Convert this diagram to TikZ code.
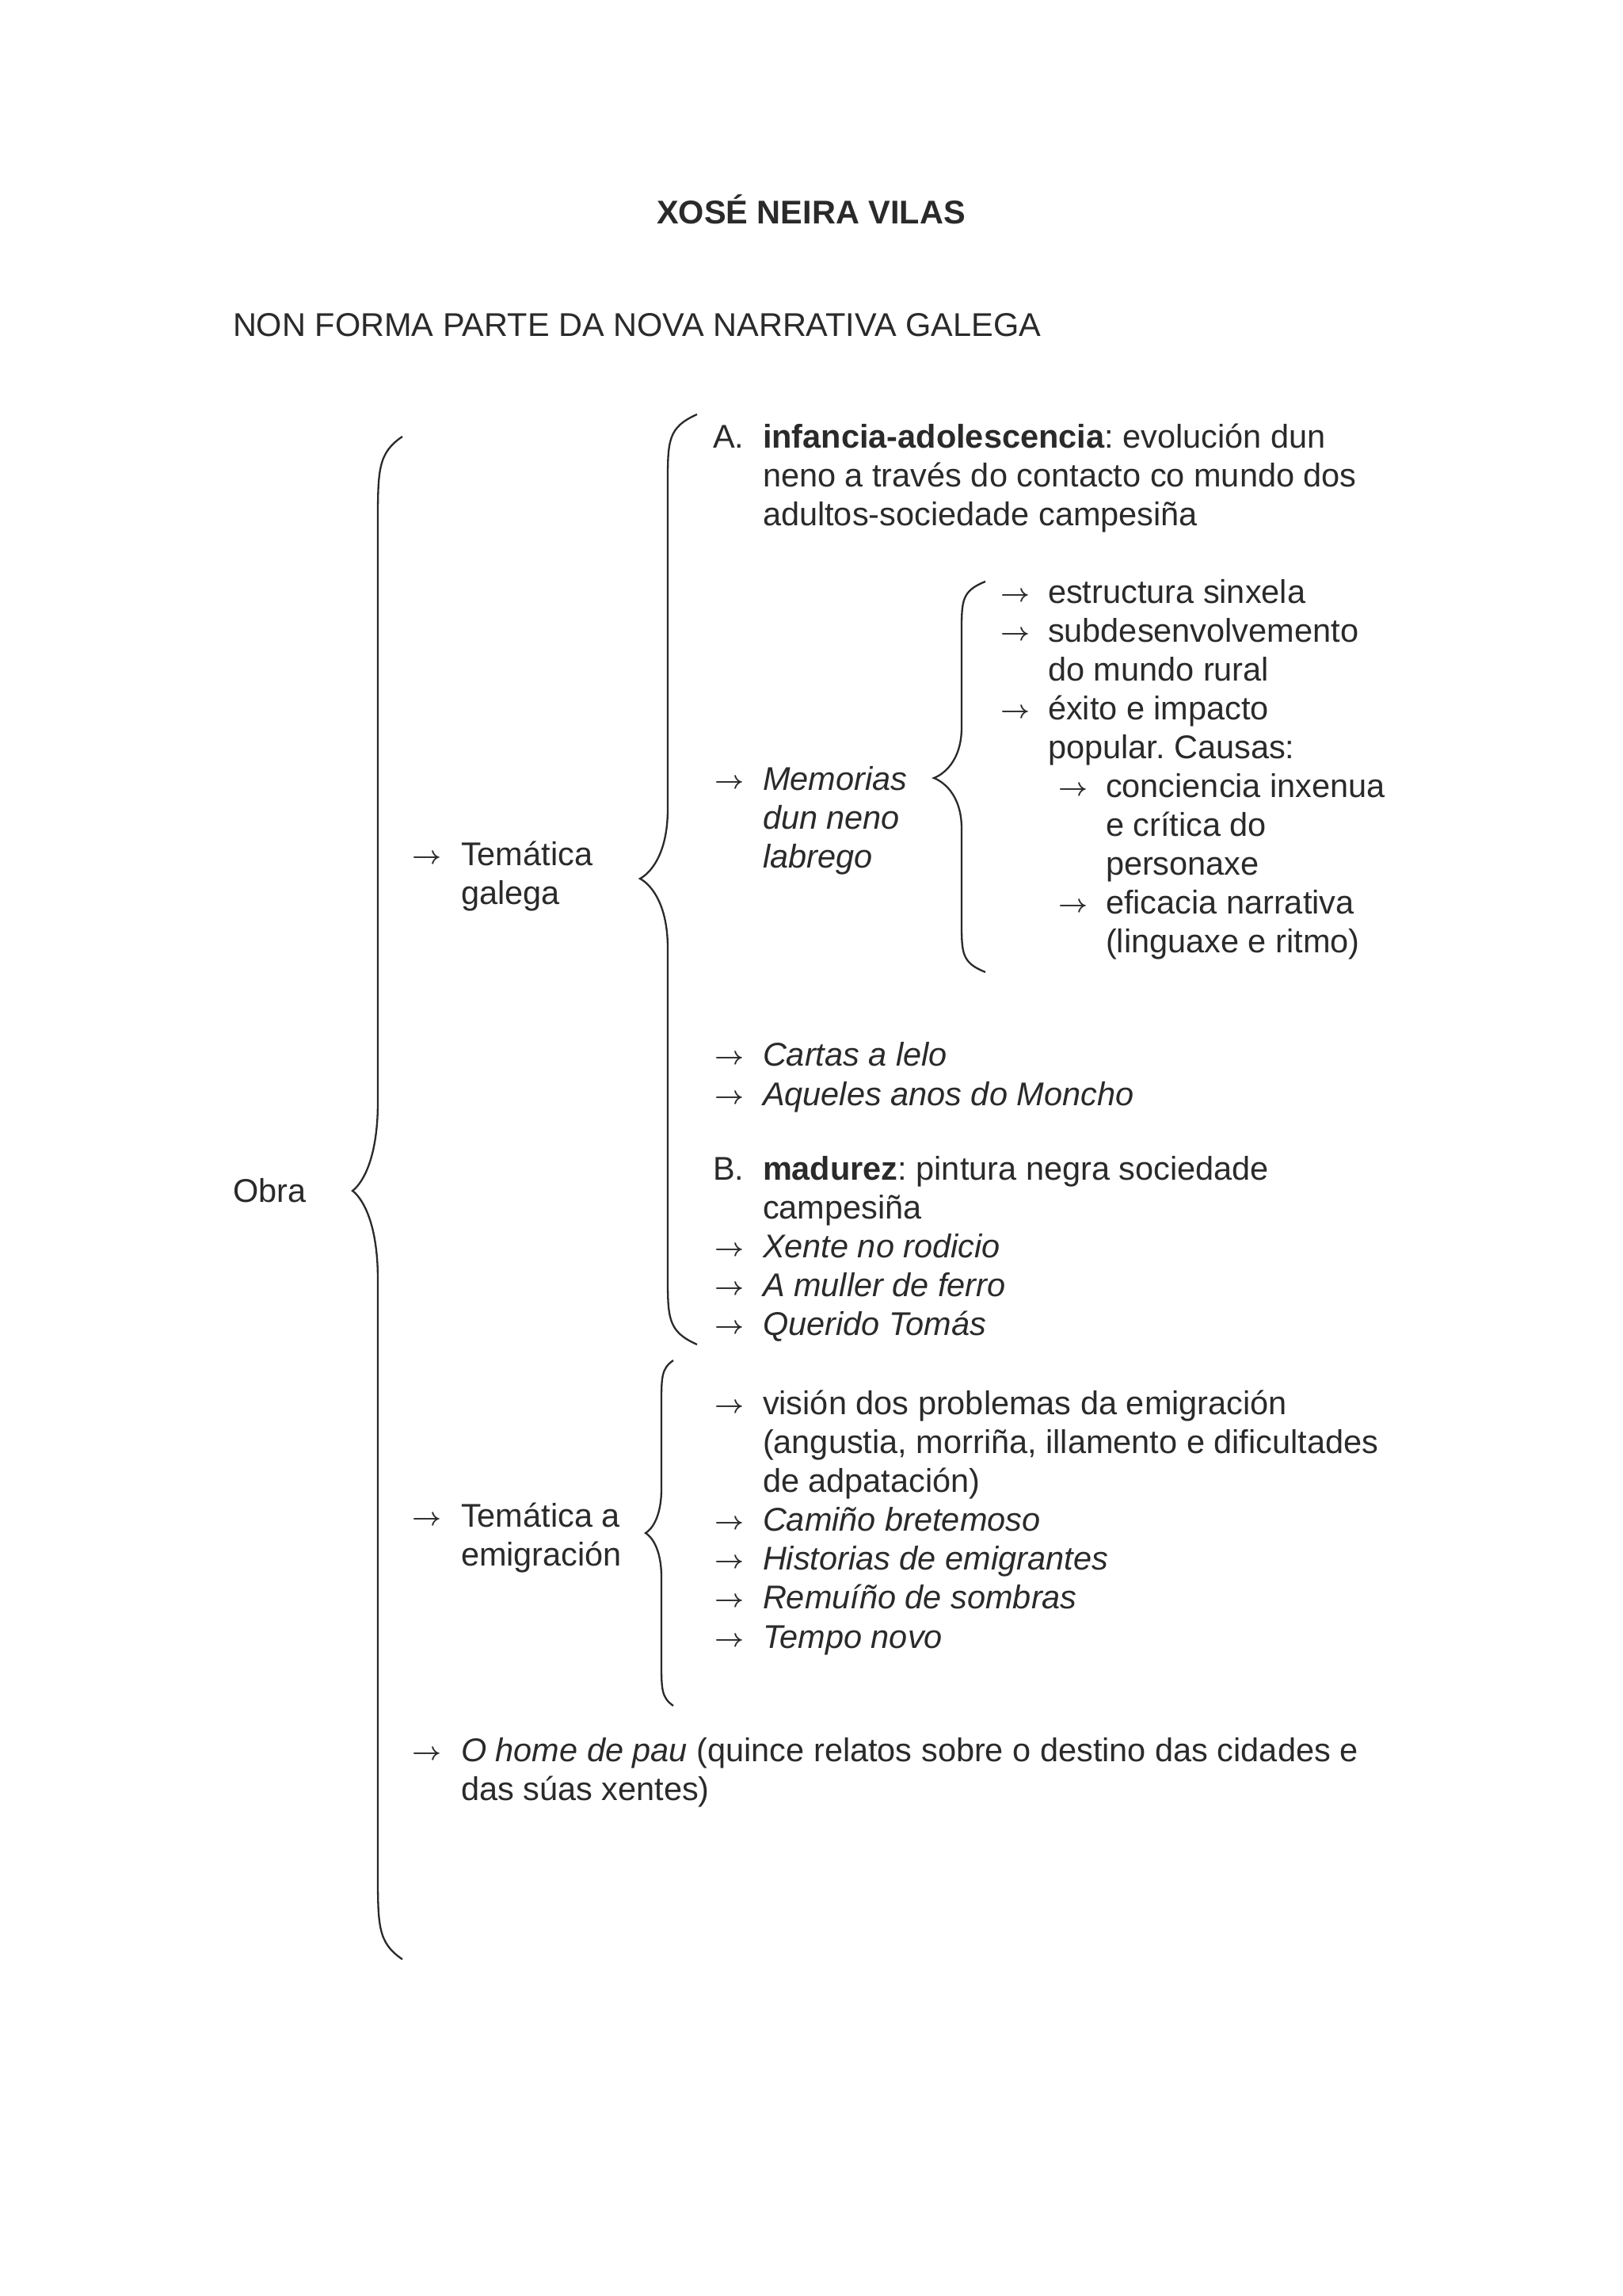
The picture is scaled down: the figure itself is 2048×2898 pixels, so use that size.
\documentclass[tikz,border=0pt]{standalone}
\usepackage{fontspec}
\setmainfont{Liberation Sans}
\frenchspacing
\definecolor{ink}{RGB}{42,42,42}
\newcommand\myarr{\resizebox{37pt}{!}{\boldmath$\rightarrow$}}
\newcommand\wbrace[7]{% xe, xv, xt, top, tip, bottom, k
  \draw[brc] ({#1},{#4}) .. controls ({#2},{#4+0.3*#7}) and ({#2},{#4+0.6*#7}) .. ({#2},{#4+1.6*#7})
    -- ({#2},{#5-1.6*#7}) .. controls ({#2},{#5-0.5*#7}) and ({#3+0.3*(#2-#3)},{#5-0.1*#7}) .. ({#3},{#5})
    .. controls ({#3+0.3*(#2-#3)},{#5+0.1*#7}) and ({#2},{#5+0.5*#7}) .. ({#2},{#5+1.6*#7})
    -- ({#2},{#6-1.6*#7}) .. controls ({#2},{#6-0.6*#7}) and ({#2},{#6-0.3*#7}) .. ({#1},{#6});}
\begin{document}
\begin{tikzpicture}[x=1pt,y=-1pt,
  txt/.style={anchor=base west, inner sep=0pt, outer sep=0pt, text=ink, font=\fontsize{41.5}{49}\selectfont},
  arr/.style={anchor=base west, inner sep=0pt, outer sep=0pt, text=ink, yshift=2pt},
  brc/.style={draw=ink, line width=2.3pt}]
\useasboundingbox (0,0) rectangle (2048,2898);
\fill[white] (0,0) rectangle (2048,2898);
% title
\node[txt, anchor=base, font=\bfseries\fontsize{41.5}{49}\selectfont] (title) at (1024,282) {XOSÉ NEIRA VILAS};
\node[txt] (non) at (294,424) {NON FORMA PARTE DA NOVA NARRATIVA GALEGA};
\node[txt] (obra) at (294,1517) {Obra};
% braces
\wbrace{508}{477}{445}{551}{1503}{2473}{70}
\wbrace{880}{843}{808}{523}{1109}{1697}{55}
\wbrace{1244}{1214}{1179}{734}{982}{1227}{40}
\wbrace{850}{835}{815}{1717}{1935}{2153}{35}
% level 1
\node[arr] (a1) at (520,1092) {\myarr};
\node[txt] (tg1) at (582,1092) {Temática};
\node[txt] (tg2) at (582,1141) {galega};
\node[arr] (a2) at (520,1927) {\myarr};
\node[txt] (te1) at (582,1927) {Temática a};
\node[txt] (te2) at (582,1976) {emigración};
\node[arr] (a3) at (520,2223) {\myarr};
\node[txt] (oh1) at (582,2223) {\textit{O home de pau} (quince relatos sobre o destino das cidades e};
\node[txt] (oh2) at (582,2272) {das súas xentes)};
% level 2 : A
\node[txt] (lA) at (900,565) {A.};
\node[txt] (A1) at (963,565) {\textbf{infancia-adolescencia}: evolución dun};
\node[txt] (A2) at (963,614) {neno a través do contacto co mundo dos};
\node[txt] (A3) at (963,663) {adultos-sociedade campesiña};
\node[arr] (am) at (902,997) {\myarr};
\node[txt] (m1) at (963,997) {\itshape Memorias};
\node[txt] (m2) at (963,1046) {\itshape dun neno};
\node[txt] (m3) at (963,1095) {\itshape labrego};
% level 3
\node[arr] (r1a) at (1263,761) {\myarr};
\node[txt] (r1) at (1323,761) {estructura sinxela};
\node[arr] (r2a) at (1263,810) {\myarr};
\node[txt] (r2) at (1323,810) {subdesenvolvemento};
\node[txt] (r2b) at (1323,859) {do mundo rural};
\node[arr] (r3a) at (1263,908) {\myarr};
\node[txt] (r3) at (1323,908) {éxito e impacto};
\node[txt] (r3b) at (1323,957) {popular. Causas:};
\node[arr] (s1a) at (1336,1006) {\myarr};
\node[txt] (s1) at (1396,1006) {conciencia inxenua};
\node[txt] (s1b) at (1396,1055) {e crítica do};
\node[txt] (s1c) at (1396,1104) {personaxe};
\node[arr] (s2a) at (1336,1153) {\myarr};
\node[txt] (s2) at (1396,1153) {eficacia narrativa};
\node[txt] (s2b) at (1396,1202) {(linguaxe e ritmo)};
% cartas
\node[arr] (ca) at (902,1345) {\myarr};
\node[txt] (c) at (963,1345) {\itshape Cartas a lelo};
\node[arr] (aqa) at (902,1395) {\myarr};
\node[txt] (aq) at (963,1395) {\itshape Aqueles anos do Moncho};
% B
\node[txt] (lB) at (900,1489) {B.};
\node[txt] (B1) at (963,1489) {\textbf{madurez}: pintura negra sociedade};
\node[txt] (B2) at (963,1538) {campesiña};
\node[arr] (xa) at (902,1587) {\myarr};
\node[txt] (x) at (963,1587) {\itshape Xente no rodicio};
\node[arr] (mua) at (902,1636) {\myarr};
\node[txt] (mu) at (963,1636) {\itshape A muller de ferro};
\node[arr] (qa) at (902,1685) {\myarr};
\node[txt] (q) at (963,1685) {\itshape Querido Tomás};
% emigracion
\node[arr] (va) at (902,1785) {\myarr};
\node[txt] (v1) at (963,1785) {visión dos problemas da emigración};
\node[txt] (v2) at (963,1834) {(angustia, morriña, illamento e dificultades};
\node[txt] (v3) at (963,1883) {de adpatación)};
\node[arr] (cba) at (902,1932) {\myarr};
\node[txt] (cb) at (963,1932) {\itshape Camiño bretemoso};
\node[arr] (hea) at (902,1981) {\myarr};
\node[txt] (he) at (963,1981) {\itshape Historias de emigrantes};
\node[arr] (rsa) at (902,2030) {\myarr};
\node[txt] (rs) at (963,2030) {\itshape Remuíño de sombras};
\node[arr] (tna) at (902,2080) {\myarr};
\node[txt] (tn) at (963,2080) {\itshape Tempo novo};
\end{tikzpicture}
\end{document}
